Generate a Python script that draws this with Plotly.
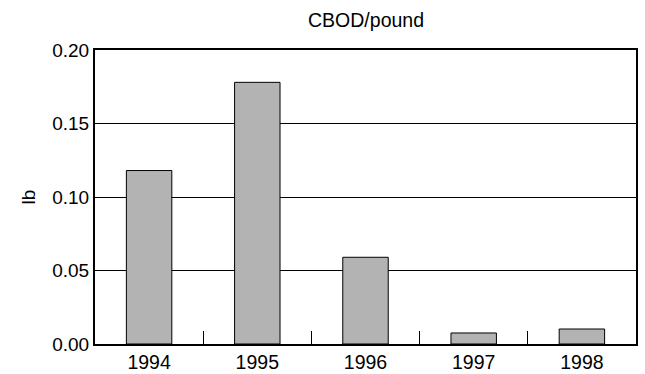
import plotly.graph_objects as go

years = ["1994", "1995", "1996", "1997", "1998"]
values = [0.118, 0.178, 0.059, 0.0075, 0.0102]
y_ticks = [0.0, 0.05, 0.10, 0.15, 0.20]
y_labels = ["0.00", "0.05", "0.10", "0.15", "0.20"]

fig = go.Figure(go.Bar(
    x=years, y=values,
    marker=dict(color="#b3b3b3", line=dict(color="black", width=1)),
    width=0.42,
))

font = dict(family="Liberation Sans, Arial, sans-serif", size=19, color="black")
fig.update_layout(
    width=645, height=374,
    margin=dict(l=95, r=9, t=50, b=30, autoexpand=False),
    paper_bgcolor="white", plot_bgcolor="white",
    font=font,
    title=dict(text="CBOD/pound", x=0.5675, xanchor="center", y=1 - 20 / 374, yanchor="middle",
               font=dict(size=19.5)),
    showlegend=False,
)
fig.update_xaxes(
    type="category", showline=True, linecolor="black", linewidth=2, mirror=True,
    ticks="inside", tickson="boundaries", ticklen=13, tickcolor="black", tickwidth=1,
    showgrid=False, tickfont=dict(size=19.5), automargin=False,
)
fig.update_yaxes(
    range=[0, 0.2], tickvals=y_ticks, ticktext=y_labels,
    showline=True, linecolor="black", linewidth=2, mirror=True,
    showgrid=True, gridcolor="black", gridwidth=1, zeroline=False,
    ticks="", title=dict(text="lb", standoff=12, font=dict(size=19)),
    tickfont=dict(size=19), automargin=False,
)
fig.write_html("out.html", config={"displayModeBar": False},
               post_script="document.body.style.margin='0';document.body.style.overflow='hidden';")
